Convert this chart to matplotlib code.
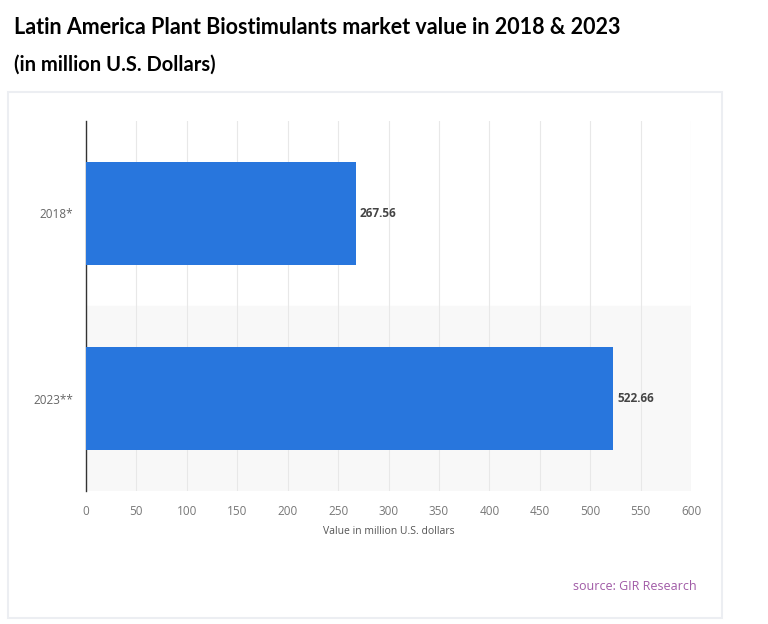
import matplotlib
matplotlib.use("Agg")
from matplotlib import pyplot as plt
from matplotlib.patches import Rectangle

categories = ["2018*", "2023**"]
values = [267.56, 522.66]
x_ticks = [0, 50, 100, 150, 200, 250, 300, 350, 400, 450, 500, 550, 600]

title = "Latin America Plant Biostimulants market value in 2018 & 2023"
subtitle = "(in million U.S. Dollars)"
x_label = "Value in million U.S. dollars"
source = "source: GIR Research"

fig = plt.figure(figsize=(7.68, 6.24), dpi=100)
fig.patch.set_facecolor("white")

# card behind the chart
card = Rectangle((8 / 768, 1 - 618 / 624), 714 / 768, 526 / 624,
                 transform=fig.transFigure, facecolor="white",
                 edgecolor="#eceef2", linewidth=1.5, zorder=-1)
fig.patches.append(card)

ax = fig.add_axes([86 / 768, 1 - 491 / 624, 605 / 768, 370 / 624])
ax.set_zorder(2)
ax.set_facecolor("none")

ypos = list(range(len(categories)))
# alternating row band
for i in ypos:
    if i % 2 == 1:
        ax.axhspan(i - 0.5, i + 0.5, color="#f8f8f8", zorder=0)

ax.barh(ypos, values, height=0.56, color="#2876dd", zorder=3)
for y, v in zip(ypos, values):
    ax.text(v + 4, y, f"{v:.2f}", va="center", ha="left",
            fontsize=8.5, fontweight="bold", color="#444444", family="Open Sans")

ax.set_xlim(0, 600)
ax.set_ylim(1.5, -0.5)
ax.set_xticks(x_ticks)
ax.set_xticklabels([str(t) for t in x_ticks], fontsize=8.5, color="#777777", family="Open Sans")
ax.set_yticks(ypos)
ax.set_yticklabels(categories, fontsize=8.5, color="#666666", family="Open Sans")
ax.tick_params(length=0, pad=9)
ax.tick_params(axis="x", pad=10)
ax.grid(axis="x", color="#e8e8e8", linewidth=0.8, zorder=1)
ax.set_axisbelow(True)
for s in ["top", "right", "bottom"]:
    ax.spines[s].set_visible(False)
ax.spines["left"].set_color("#333333")
ax.spines["left"].set_linewidth(1)
ax.set_xlabel(x_label, fontsize=7.5, color="#555555", family="Open Sans", labelpad=6)

fig.text(14 / 768, 1 - 27 / 624, title, fontsize=15.5, fontweight="bold",
         family="Lato", color="black", va="center", ha="left")
fig.text(14 / 768, 1 - 65 / 624, subtitle, fontsize=14.5, fontweight="bold",
         family="Lato", color="black", va="center", ha="left")
fig.text(697 / 768, 1 - 586 / 624, source, fontsize=9, color="#a05aa6",
         family="Open Sans", va="center", ha="right")

fig.savefig("out.png", dpi=100)
